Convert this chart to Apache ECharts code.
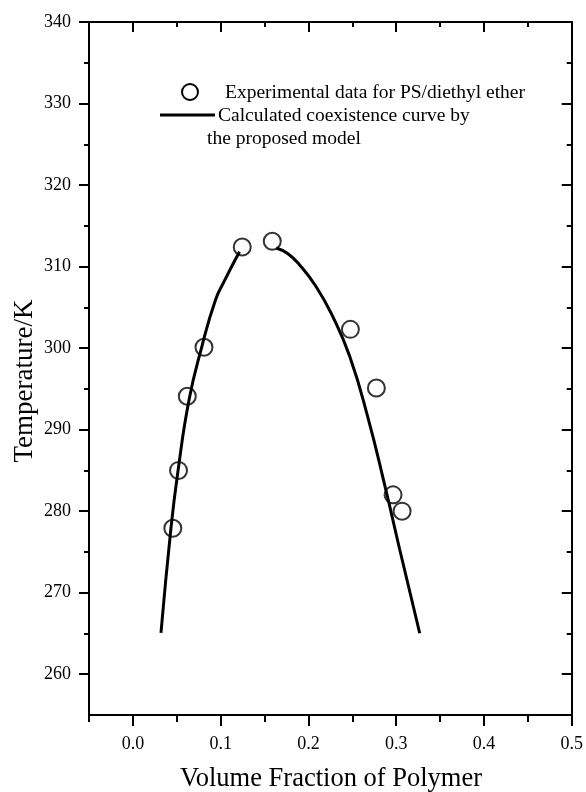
<!DOCTYPE html>
<html>
<head>
<meta charset="utf-8">
<script src="https://cdn.jsdelivr.net/npm/echarts@6/dist/echarts.min.js"></script>
<style>
html,body{margin:0;padding:0;background:#fff;}
#chart{width:586px;height:792px;}
</style>
</head>
<body>
<div id="chart"></div>
<script>
// Experimental data (circles)
const expX = [0.0455, 0.052, 0.062, 0.081, 0.1246, 0.1588, 0.2478, 0.2774, 0.2964, 0.3067];
const expT = [277.9, 285.0, 294.1, 300.1, 312.4, 313.1, 302.3, 295.1, 282.0, 280.0];

// Calculated coexistence curve (two branches)
const leftX = [0.0320, 0.0434, 0.0514, 0.0640, 0.0782, 0.0942, 0.1050, 0.1130, 0.1215];
const leftT = [265.06, 277.95, 284.94, 293.66, 300.04, 305.94, 308.39, 310.11, 311.83];
const rightX = [0.1634, 0.1763, 0.1900, 0.2090, 0.2276, 0.2470, 0.2675, 0.2880, 0.3040, 0.3268];
const rightT = [312.28, 311.60, 310.20, 307.50, 303.90, 299.00, 291.60, 282.70, 275.30, 265.03];

// Tick values
const xMajorTicks = [0.0, 0.1, 0.2, 0.3, 0.4, 0.5];
const xMinorTicks = [-0.05, 0.05, 0.15, 0.25, 0.35, 0.45];
const yMajorTicks = [260, 270, 280, 290, 300, 310, 320, 330, 340];
const yMinorTicks = [265, 275, 285, 295, 305, 315, 325, 335];

const legendLabels = ['Experimental data for PS/diethyl ether', 'Calculated coexistence curve by', 'the proposed model'];
const xTitle = 'Volume Fraction of Polymer';
const yTitle = 'Temperature/K';

const FONT = '"Liberation Serif", "DejaVu Serif", serif';
const XMIN = -0.05, XMAX = 0.5, YMIN = 255, YMAX = 340;

function zip(a, b) { return a.map((v, i) => [v, b[i]]); }

function xAxisDef(pos, ticks, len, inside, showLine, labels) {
  return {
    type: 'value', position: pos, min: XMIN, max: XMAX, gridIndex: 0,
    axisLine: { show: showLine, onZero: false, lineStyle: { color: '#000', width: 2 } },
    axisTick: { show: true, inside: inside, length: len, customValues: ticks, lineStyle: { color: '#000', width: 2 } },
    axisLabel: labels ? {
      show: true, customValues: xMajorTicks, margin: 20,
      formatter: v => Number(v).toFixed(1),
      color: '#000', fontFamily: FONT, fontSize: 18
    } : { show: false },
    splitLine: { show: false }
  };
}
function yAxisDef(pos, ticks, len, inside, showLine, labels) {
  return {
    type: 'value', position: pos, min: YMIN, max: YMAX, gridIndex: 0,
    axisLine: { show: showLine, onZero: false, lineStyle: { color: '#000', width: 2 } },
    axisTick: { show: true, inside: inside, length: len, customValues: ticks, lineStyle: { color: '#000', width: 2 } },
    axisLabel: labels ? {
      show: true, customValues: yMajorTicks, margin: 18,
      formatter: v => String(v),
      color: '#000', fontFamily: FONT, fontSize: 18
    } : { show: false },
    splitLine: { show: false }
  };
}

const chart = echarts.init(document.getElementById('chart'), null, { renderer: 'canvas' });
chart.setOption({
  backgroundColor: '#fff',
  animation: false,
  grid: { left: 89, right: 14, top: 22, bottom: 77, containLabel: false },
  xAxis: [
    xAxisDef('bottom', xMajorTicks, 11, false, true, true),
    xAxisDef('bottom', xMinorTicks, 7, false, false, false),
    xAxisDef('top', xMajorTicks, 10, true, true, false),
    xAxisDef('top', xMinorTicks, 5, true, false, false)
  ],
  yAxis: [
    yAxisDef('left', yMajorTicks, 10, false, true, true),
    yAxisDef('left', yMinorTicks, 5, false, false, false),
    yAxisDef('right', yMajorTicks, 10, true, true, false),
    yAxisDef('right', yMinorTicks, 5, true, false, false)
  ],
  series: [
    {
      type: 'line', name: 'left', data: zip(leftX, leftT), smooth: 0.5,
      showSymbol: false, lineStyle: { color: '#000', width: 3 }, z: 2
    },
    {
      type: 'line', name: 'right', data: zip(rightX, rightT), smooth: 0.5,
      showSymbol: false, lineStyle: { color: '#000', width: 3 }, z: 2
    },
    {
      type: 'scatter', name: 'exp', data: zip(expX, expT), symbol: 'circle', symbolSize: 17,
      itemStyle: { color: 'rgba(0,0,0,0)', borderColor: '#000', borderWidth: 2 }, z: 3
    }
  ],
  graphic: [
    { type: 'circle', shape: { cx: 190, cy: 92, r: 8 }, style: { fill: 'none', stroke: '#000', lineWidth: 2 } },
    { type: 'line', shape: { x1: 160, y1: 115, x2: 215, y2: 115 }, style: { stroke: '#000', lineWidth: 3 } },
    { type: 'text', left: 225, top: 83, style: { text: legendLabels[0], fill: '#000', font: '19.5px ' + FONT } },
    { type: 'text', left: 218, top: 106, style: { text: legendLabels[1], fill: '#000', font: '19.5px ' + FONT } },
    { type: 'text', left: 207, top: 129, style: { text: legendLabels[2], fill: '#000', font: '19.5px ' + FONT } },
    { type: 'text', x: 331, y: 779, style: { text: xTitle, fill: '#000', font: '26.5px ' + FONT, textAlign: 'center', textVerticalAlign: 'middle' } },
    { type: 'text', x: 25, y: 381, rotation: Math.PI / 2, style: { text: yTitle, fill: '#000', font: '27px ' + FONT, textAlign: 'center', textVerticalAlign: 'middle' } }
  ]
});
</script>
</body>
</html>
